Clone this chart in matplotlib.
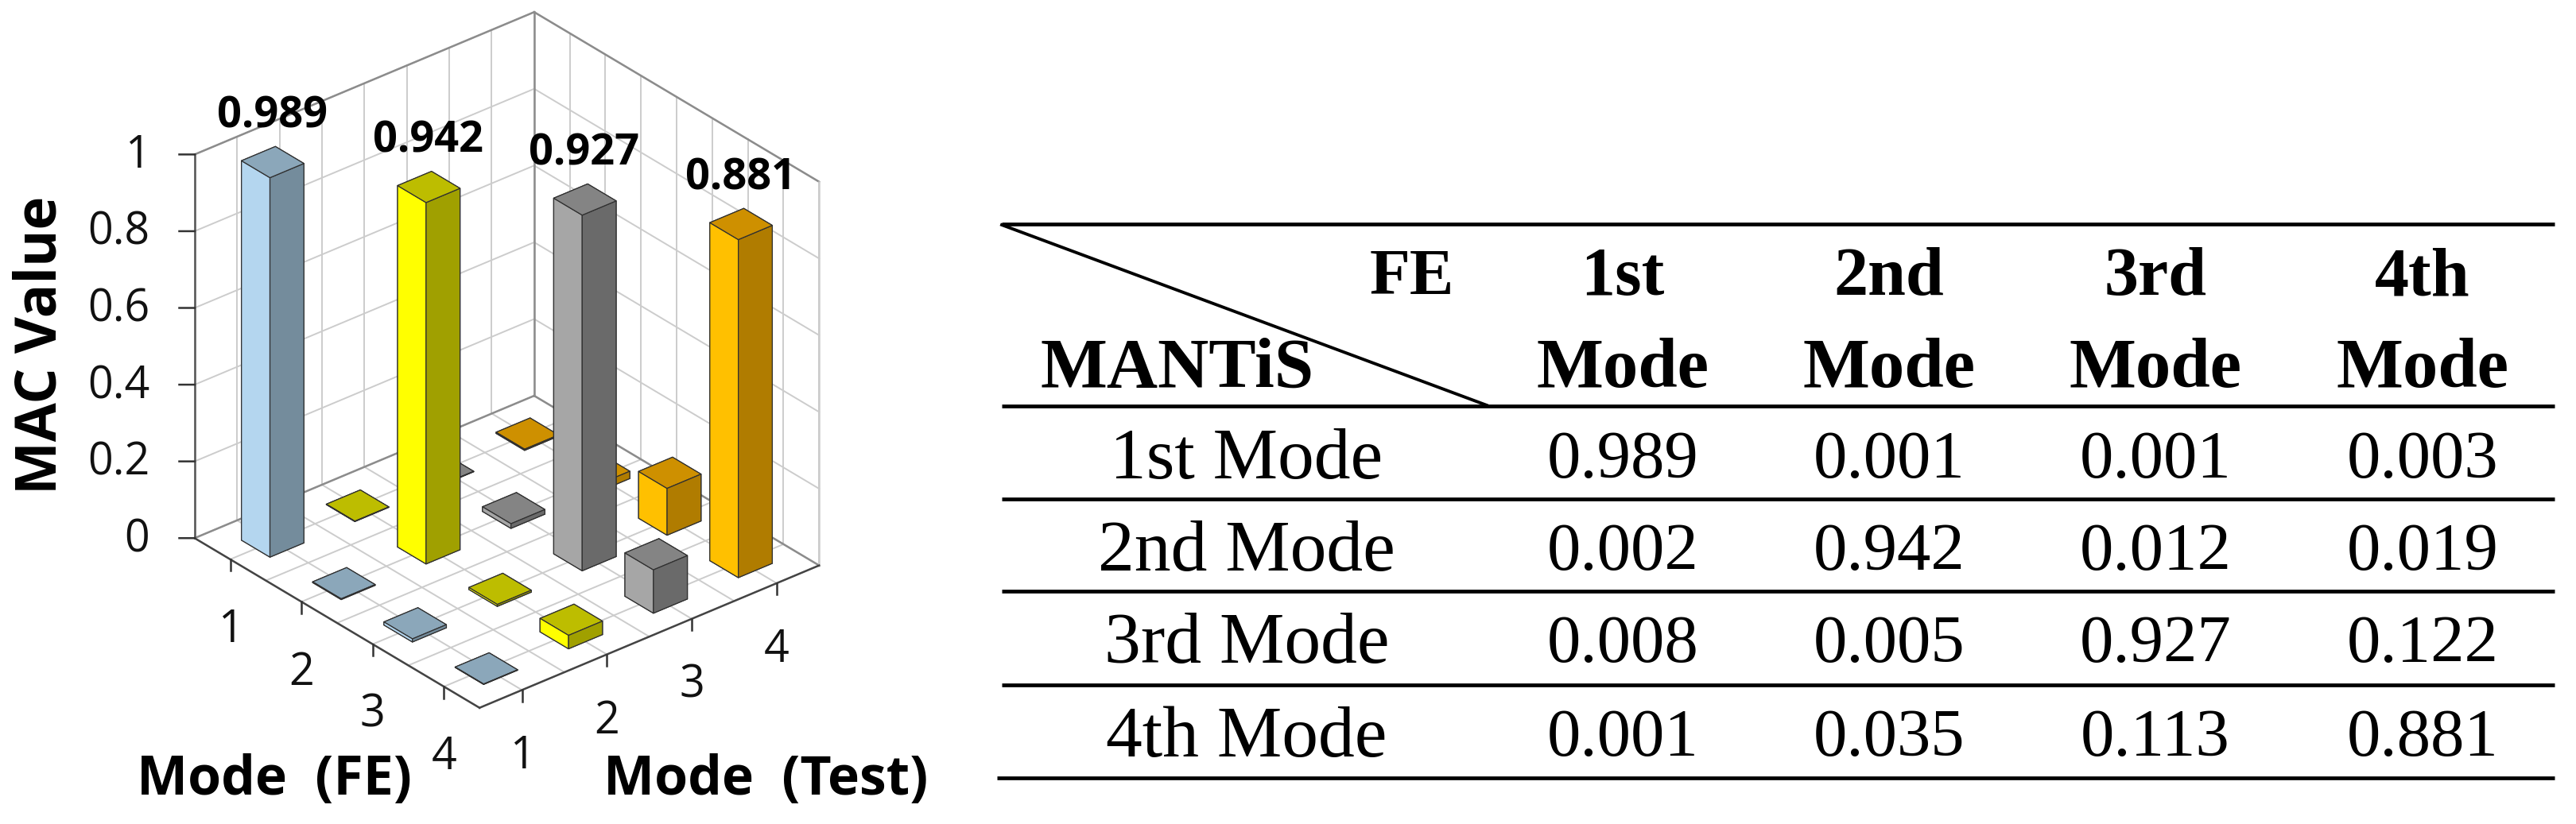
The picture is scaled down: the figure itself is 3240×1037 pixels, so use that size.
import numpy as np
import matplotlib
matplotlib.use("Agg")
import matplotlib.pyplot as plt

# rows = MANTiS mode, columns = FE mode
mac_row1 = [0.989, 0.001, 0.001, 0.003]
mac_row2 = [0.002, 0.942, 0.012, 0.019]
mac_row3 = [0.008, 0.005, 0.927, 0.122]
mac_row4 = [0.001, 0.035, 0.113, 0.881]
row_labels = ["1st Mode", "2nd Mode", "3rd Mode", "4th Mode"]
col_top = ["1st", "2nd", "3rd", "4th"]
mode_ticks = [1, 2, 3, 4]
z_ticks = [0, 0.2, 0.4, 0.6, 0.8, 1]
z_tick_labels = ["0", "0.2", "0.4", "0.6", "0.8", "1"]

# per column colours: light side, top, dark side
light = ["#B4D6EF", "#FFFF00", "#A6A6A6", "#FFC000"]
top = ["#8BA7BA", "#BDBD00", "#848484", "#CE9000"]
dark = ["#748C9C", "#A0A000", "#6A6A6A", "#B07C00"]

mac = np.array([mac_row1, mac_row2, mac_row3, mac_row4])

fig = plt.figure(figsize=(32.4, 10.37), dpi=100, facecolor="white")
ax = fig.add_axes([105 / 3240, 51.5 / 1037, 1037 / 3240, 1], projection="3d")
ax.set_proj_type("ortho")
ax.view_init(elev=30, azim=-40)
ax.set_box_aspect((1, 1, 1), zoom=0.904)
ax.set_xlim(0.5, 4.5)
ax.set_ylim(0.5, 4.5)
ax.set_zlim(0, 1)
ax.set_axis_off()
ax.computed_zorder = False

sans = "Open Sans"
grid_c = "#CCCCCC"
edge_c = "#8C8C8C"
lo, hi = 0.5, 4.5

# walls and floor grid
for g in np.arange(0.5, 4.51, 0.5):
    ax.plot([g, g], [lo, hi], [0, 0], color=grid_c, lw=1.4, zorder=1)
    ax.plot([lo, hi], [g, g], [0, 0], color=grid_c, lw=1.4, zorder=1)
    ax.plot([g, g], [hi, hi], [0, 1], color=grid_c, lw=1.4, zorder=1)
    ax.plot([lo, lo], [g, g], [0, 1], color=grid_c, lw=1.4, zorder=1)
for z in z_ticks[1:]:
    ax.plot([lo, lo], [lo, hi], [z, z], color=grid_c, lw=1.4, zorder=1)
    ax.plot([lo, hi], [hi, hi], [z, z], color=grid_c, lw=1.4, zorder=1)

# box edges
ax.plot([lo, lo], [hi, hi], [0, 1], color=edge_c, lw=1.8, zorder=1.1)
ax.plot([lo, lo], [lo, hi], [1, 1], color=edge_c, lw=1.8, zorder=1.1)
ax.plot([lo, hi], [hi, hi], [1, 1], color=edge_c, lw=1.8, zorder=1.1)
ax.plot([lo, lo], [lo, hi], [0, 0], color=edge_c, lw=1.8, zorder=1.1)
ax.plot([lo, hi], [hi, hi], [0, 0], color=edge_c, lw=1.8, zorder=1.1)
ax.plot([hi, hi], [hi, hi], [0, 1], color=grid_c, lw=1.8, zorder=1.1)
ax.plot([lo, lo], [lo, lo], [0, 1], color="#555555", lw=1.8, zorder=1.2)
ax.plot([lo, hi], [lo, lo], [0, 0], color="#444444", lw=1.8, zorder=1.2)
ax.plot([hi, hi], [lo, hi], [0, 0], color="#444444", lw=1.8, zorder=1.2)

# bars back to front
order = sorted(
    [(i, j) for i in range(4) for j in range(4)],
    key=lambda p: np.cos(np.radians(40)) * p[0] - np.sin(np.radians(40)) * p[1],
)
w = 0.4
for n, (i, j) in enumerate(order):
    v = mac[i, j]
    # faces: -z, +z, -y, +y, -x, +x
    faces = [top[j], top[j], light[j], dark[j], light[j], dark[j]]
    ax.bar3d(mode_ticks[i] - w / 2, mode_ticks[j] - w / 2, 0, w, w, v,
             color=faces, edgecolor="#303030", linewidth=0.9, shade=False,
             zorder=2 + n)

# value labels over the diagonal
for k in range(4):
    ax.text(mode_ticks[k] - 0.01, mode_ticks[k], mac[k, k] + 0.118, f"{mac[k, k]:.3f}",
            ha="center", va="center", fontsize=39, fontweight="bold",
            family=sans, color="black", zorder=40)

# ticks
for z, lab in zip(z_ticks, z_tick_labels):
    ax.plot([lo, lo - 0.089], [lo, lo - 0.106], [z, z], color="#333333", lw=1.8, zorder=1.3)
    ax.text(lo - 0.26, lo - 0.31, z - 0.005, lab, ha="right", va="center",
            fontsize=40, family=sans, color="#111111", zorder=40)
for t in mode_ticks:
    ax.plot([t, t], [lo, lo], [0, -0.03], color="#333333", lw=1.8, zorder=1.3)
    ax.plot([hi, hi], [t, t], [0, -0.03], color="#333333", lw=1.8, zorder=1.3)
    ax.text(t, lo, -0.186, str(t), ha="center", va="center",
            fontsize=40, family=sans, color="#111111", zorder=40)
    ax.text(hi, t, -0.175, str(t), ha="center", va="center",
            fontsize=40, family=sans, color="#111111", zorder=40)

# overlay in pixel coords for axis titles and the table
ov = fig.add_axes([0, 0, 1, 1])
ov.set_xlim(0, 3240)
ov.set_ylim(1037, 0)
ov.axis("off")

ov.text(52, 434, "MAC Value", rotation=90, ha="center", va="center",
        fontsize=51, fontweight="bold", family=sans)
ov.text(345, 982, "Mode  (FE)", ha="center", va="center",
        fontsize=49, fontweight="bold", family=sans)
ov.text(963, 982, "Mode  (Test)", ha="center", va="center",
        fontsize=49, fontweight="bold", family=sans)

serif = "Liberation Serif"
line_w = 3.4
line_y = [282, 511, 628, 744, 862]
for yy in line_y:
    ov.plot([1260, 3213], [yy, yy], color="black", lw=line_w, solid_capstyle="butt")
ov.plot([1254, 3213], [979, 979], color="black", lw=line_w, solid_capstyle="butt")
ov.plot([1260, 1870], [283, 510], color="black", lw=2.8)

col_x = [2041, 2376, 2711, 3047]
row_x = 1568
row_y = [580, 696, 812, 930]
ov.text(1829, 351, "FE", ha="right", va="center", fontsize=60, fontweight="bold", family=serif)
ov.text(1308, 465, "MANTiS", ha="left", va="center", fontsize=64, fontweight="bold", family=serif)
for c, lab in zip(col_x, col_top):
    ov.text(c, 351, lab, ha="center", va="center", fontsize=62, fontweight="bold", family=serif)
    ov.text(c, 465, "Mode", ha="center", va="center", fontsize=64, fontweight="bold", family=serif)
for r, (yy, lab) in enumerate(zip(row_y, row_labels)):
    ov.text(row_x, yy, lab, ha="center", va="center", fontsize=66, family=serif)
    for c, xx in enumerate(col_x):
        ov.text(xx, yy, f"{mac[r, c]:.3f}", ha="center", va="center", fontsize=61, family=serif)

fig.savefig("out.png", dpi=100)
